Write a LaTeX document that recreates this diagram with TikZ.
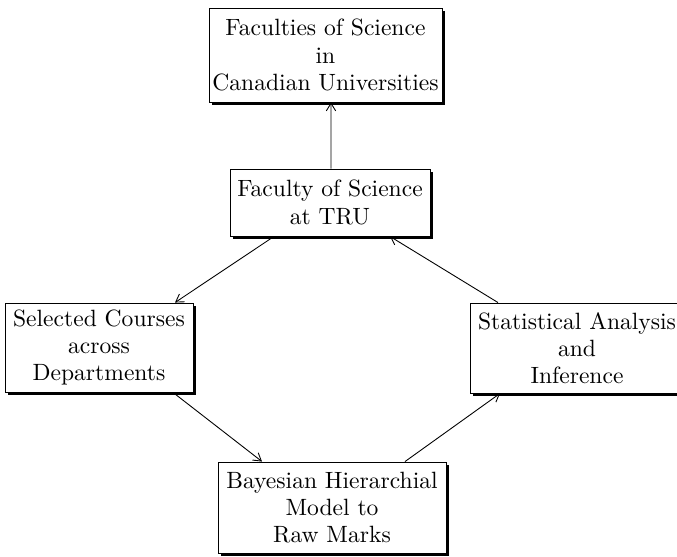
\documentclass[tikz,border=0pt]{standalone}
\usetikzlibrary{shadows,arrows.meta}
\begin{document}
\begin{tikzpicture}[x=0.45pt,y=-0.45pt,
  box/.style={draw,fill=white,align=center,inner sep=1pt,line width=0.4pt,
    font=\fontsize{10.6}{12.2}\selectfont,
    drop shadow={fill=black,opacity=1,shadow xshift=1.3pt,shadow yshift=-1.3pt}},
  conn/.style={-{Straight Barb[length=3.4pt,width=4.2pt]},line width=0.4pt}]
\useasboundingbox (0,0) rectangle (677,557);
\node[box,minimum width=104.85pt,minimum height=42.3pt] (top) at (325.5,55) {Faculties of Science\\in\\Canadian Universities};
\node[box,minimum width=90pt,minimum height=30.15pt] (tru) at (330,202.5) {Faculty of Science\\at TRU};
\node[box,minimum width=84.6pt,minimum height=40.05pt] (left) at (99,347.5) {Selected Courses\\across\\Departments};
\node[box,minimum width=96.3pt,minimum height=40.5pt] (right) at (577,348) {Statistical Analysis\\and\\Inference};
\node[box,minimum width=102.6pt,minimum height=40.95pt] (bot) at (332,507.5) {Bayesian Hierarchial\\Model to\\Raw Marks};
\draw[conn] ([xshift=0.45pt]tru.north) -- ([xshift=2.475pt]top.south);
\draw[conn] ([xshift=-25.2pt]tru.south) -- ([xshift=34.2pt]left.north);
\draw[conn] ([xshift=33.3pt]left.south) -- ([xshift=-31.5pt]bot.north);
\draw[conn] ([xshift=32.85pt]bot.north) -- ([xshift=-34.65pt]right.south);
\draw[conn] ([xshift=-35.55pt]right.north) -- ([xshift=27pt]tru.south);
\end{tikzpicture}
\end{document}
